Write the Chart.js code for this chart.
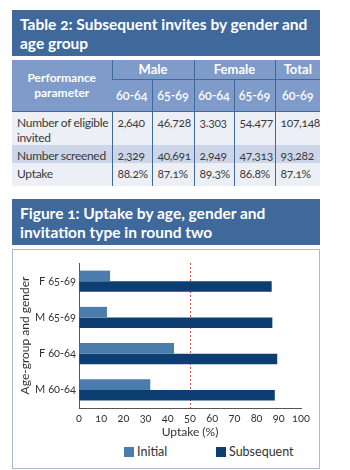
<!DOCTYPE html>
<html>
<head>
<meta charset="utf-8">
<script src="https://cdn.jsdelivr.net/npm/chart.js@4"></script>
<style>
  body { margin: 0; width: 350px; height: 470px; background: #fff; position: relative; overflow: hidden;
         font-family: Lato, "Noto Sans", sans-serif; font-variant-numeric: oldstyle-nums; }
  .hdr { position: absolute; left: 12px; width: 308px; background: #40699b; color: #fff;
         font-weight: bold; font-size: 15.5px; line-height: 19px; padding: 5px 0 0 8px; box-sizing: border-box; }
  table { position: absolute; left: 12px; top: 60px; width: 308px; border-collapse: collapse; table-layout: fixed;
          font-size: 12px; letter-spacing: -0.3px; color: #3a3a3a; }
  th { background: #7e9bc9; color: #fff; font-weight: bold; font-size: 12px; text-align: center; padding: 0;
       border-left: 1px solid #40699b; letter-spacing: 0; }
  th.top { font-size: 13px; border-bottom: 1px solid #40699b; }
  th.sub { font-weight: 600; font-size: 12.5px; }
  td { padding: 3px 0 0 5px; vertical-align: top; border-left: 1px solid #40699b; line-height: 15px; white-space: nowrap; }
  td:first-child { white-space: normal; }
  td:first-child, th:first-child { border-left: none; }
  tr.light td { background: #eceff6; }
  tr.dark td { background: #ccd6e8; }
  tr.first td { border-top: 1px solid #40699b; }
  .box { position: absolute; left: 12px; top: 249px; width: 308px; height: 220px; box-sizing: border-box;
         border: 1.5px solid #a9bcd1; }
  #chart { position: absolute; left: 12px; top: 250px; }
  #legend { position: absolute; top: 444px; left: 0; width: 350px; height: 14px; font-size: 12.5px; color: #333; }
  #legend span.item { position: absolute; top: 0; display: flex; align-items: center; }
  #legend i { display: inline-block; width: 10px; height: 10px; margin-right: 3px; }
</style>
</head>
<body>
<div class="hdr" style="top:10px;height:46px">Table 2: Subsequent invites by gender and<br>age group</div>
<table id="tbl"></table>
<div class="hdr" style="top:199px;height:46px">Figure 1: Uptake by age, gender and<br>invitation type in round two</div>
<div class="box"></div>
<canvas id="chart" width="308" height="190"></canvas>
<div id="legend"></div>
<script>
// table 2
const genders = ['Male', 'Female', 'Total'];
const ageBands = ['60-64', '65-69', '60-64', '65-69', '60-69'];
const rowNames = ['Number of eligible invited', 'Number screened', 'Uptake'];
const eligible = ['2,640', '46,728', '3.303', '54.477', '107,148'];
const screened = ['2,329', '40,691', '2,949', '47,313', '93,282'];
const uptake = ['88.2%', '87.1%', '89.3%', '86.8%', '87.1%'];

// figure 1
const ageGroups = ['F 65-69', 'M 65-69', 'F 60-64', 'M 60-64'];
const initialUptake = [14, 12.6, 42.8, 32.1];
const subsequentUptake = [86.8, 87.1, 89.3, 88.2];
const seriesNames = ['Initial', 'Subsequent'];

const colWidths = [100, 40, 42, 40, 41, 45];
const rowHeights = [34, 18, 23];

let html = '<colgroup>' + colWidths.map(w => `<col style="width:${w}px">`).join('') + '</colgroup>';
html += `<tr style="height:19px"><th rowspan="2">Performance<br>parameter</th>
  <th class="top" colspan="2">${genders[0]}</th><th class="top" colspan="2">${genders[1]}</th><th class="top">${genders[2]}</th></tr>`;
html += '<tr style="height:32px">' + ageBands.map(a => `<th class="sub">${a}</th>`).join('') + '</tr>';
[eligible, screened, uptake].forEach((vals, i) => {
    let cls = (i === 1 ? 'dark' : 'light') + (i === 0 ? ' first' : '');
    html += `<tr class="${cls}" style="height:${rowHeights[i]}px"><td>${rowNames[i]}</td>` +
        vals.map(v => `<td>${v}</td>`).join('') + '</tr>';
});
document.getElementById('tbl').innerHTML = html;

const colors = ['#4a7dae', '#0c3e72'];

const htmlLegend = {
    id: 'htmlLegend',
    afterUpdate(chart) {
        const box = document.getElementById('legend');
        box.innerHTML = '';
        const lefts = [124, 216];
        chart.data.datasets.forEach((ds, i) => {
            const item = document.createElement('span');
            item.className = 'item';
            item.style.left = lefts[i] + 'px';
            item.innerHTML = `<i style="background:${ds.backgroundColor}"></i>${ds.label}`;
            box.appendChild(item);
        });
    }
};

new Chart(document.getElementById('chart'), {
    type: 'bar',
    data: {
        labels: ageGroups,
        datasets: [
            { label: seriesNames[0], data: initialUptake, backgroundColor: colors[0] },
            { label: seriesNames[1], data: subsequentUptake, backgroundColor: colors[1] }
        ]
    },
    options: {
        indexAxis: 'y',
        responsive: false,
        animation: false,
        categoryPercentage: 0.58,
        barPercentage: 1,
        layout: { padding: { top: 13, right: 19, left: 0, bottom: 0 } },
        plugins: { legend: { display: false }, tooltip: { enabled: false } },
        scales: {
            x: {
                min: 0,
                max: 100,
                ticks: { stepSize: 10, color: '#333', font: { family: 'Lato', size: 11 }, padding: 4,
                         maxRotation: 0, minRotation: 0, autoSkip: false },
                grid: {
                    drawTicks: false,
                    lineWidth: 1,
                    color: c => (c.tick && c.tick.value === 50) ? '#d9534f' : 'transparent'
                },
                border: { color: '#555', width: 1, dash: [2, 2] },
                title: { display: true, text: 'Uptake (%)', color: '#333', font: { family: 'Lato', size: 12 }, padding: { top: 0, bottom: 1 } },
                afterFit: s => { s.height = 32; }
            },
            y: {
                grid: { display: false, drawTicks: false },
                border: { color: '#555', width: 1 },
                ticks: { color: '#333', font: { family: 'Lato', size: 11 }, padding: 3 },
                title: { display: true, text: 'Age-group and gender', color: '#333', font: { family: 'Lato', size: 12 }, padding: { top: 6, bottom: 0 } },
                afterFit: s => { s.width = 67; }
            }
        }
    },
    plugins: [htmlLegend]
});
</script>
</body>
</html>
